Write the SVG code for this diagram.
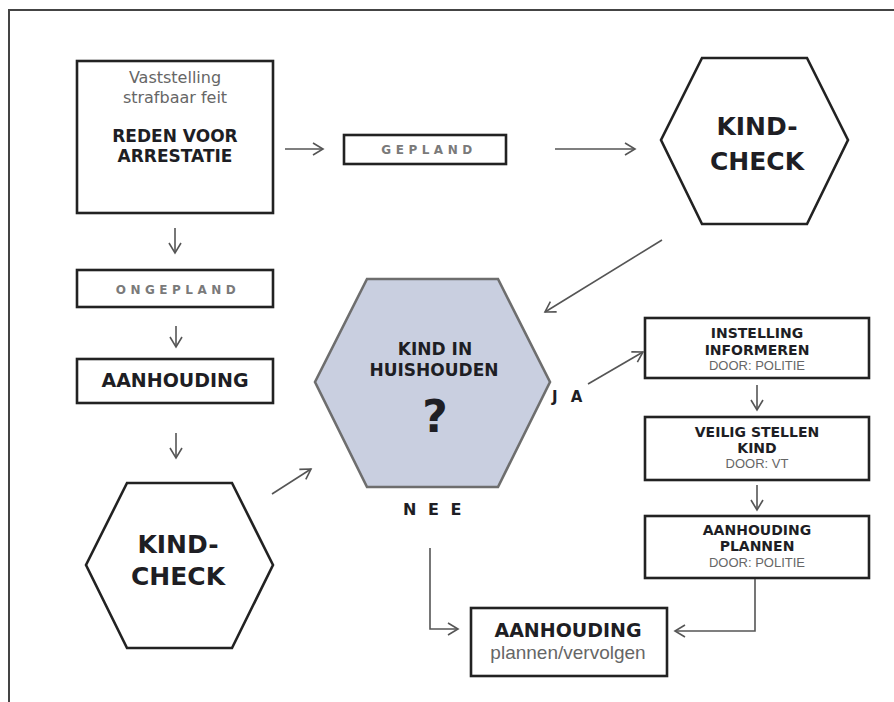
<svg xmlns="http://www.w3.org/2000/svg" width="894" height="702" viewBox="0 0 894 702">
<defs>
<marker id="ah" markerUnits="userSpaceOnUse" markerWidth="14" markerHeight="14" refX="12" refY="7" orient="auto" viewBox="0 0 14 14">
<path d="M2,1 L12,7 L2,13" fill="none" stroke="#555" stroke-width="1.6"/>
</marker>
<style>
.box{fill:#fff;stroke:#222;stroke-width:2.6}
.hex{fill:#fff;stroke:#222;stroke-width:2.6;stroke-linejoin:miter}
.chex{fill:#c9cfe0;stroke:#6e6e6e;stroke-width:2.6}
.con{fill:none;stroke:#555;stroke-width:1.6;marker-end:url(#ah)}
.b{font-family:"DejaVu Sans",sans-serif;font-weight:bold;fill:#1e1e24;text-anchor:middle}
.g{font-family:"Liberation Sans",Arial,sans-serif;fill:#666;text-anchor:middle}
.sp{font-family:"DejaVu Sans",sans-serif;font-weight:bold;fill:#7a7a7a;font-size:12px;letter-spacing:4.5px;text-anchor:middle}
</style>
</defs>
<rect width="894" height="702" fill="#fff"/>
<path d="M9,702 L9,10 L894,10" fill="none" stroke="#444" stroke-width="2"/>

<g id="reden">
<rect class="box" x="77" y="61" width="196" height="152"/>
<text class="g" x="175" y="83" font-size="16" style="font-family:'DejaVu Sans',sans-serif">Vaststelling</text>
<text class="g" x="175" y="103" font-size="16" style="font-family:'DejaVu Sans',sans-serif">strafbaar feit</text>
<text class="b" x="175" y="142" font-size="17">REDEN VOOR</text>
<text class="b" x="175" y="162" font-size="17">ARRESTATIE</text>
</g>

<g id="gepland">
<rect class="box" x="344" y="135" width="162" height="29"/>
<text class="sp" x="429" y="154">GEPLAND</text>
</g>

<g id="kindcheck1">
<polygon class="hex" points="702,58 807,58 848,140 807,224 702,224 661,140"/>
<text class="b" x="757" y="135" font-size="25">KIND-</text>
<text class="b" x="757" y="170" font-size="25">CHECK</text>
</g>

<g id="ongepland">
<rect class="box" x="77" y="270" width="196" height="37"/>
<text class="sp" x="178" y="294">ONGEPLAND</text>
</g>

<g id="aanhouding1">
<rect class="box" x="77" y="359" width="196" height="44"/>
<text class="b" x="175" y="387" font-size="19">AANHOUDING</text>
</g>

<g id="kindcheck2">
<polygon class="hex" points="127,483 232,483 273,565 232,648 127,648 86,565"/>
<text class="b" x="178" y="553" font-size="25">KIND-</text>
<text class="b" x="178" y="585" font-size="25">CHECK</text>
</g>

<g id="kindinhuishouden">
<polygon class="chex" points="367,279 498,279 550,382 498,487 367,487 315,382"/>
<text class="b" x="435" y="355" font-size="17">KIND IN</text>
<text class="b" x="434" y="376" font-size="17">HUISHOUDEN</text>
<text class="b" x="435" y="432" font-size="44">?</text>
</g>

<g id="labels">
<text class="b" x="552" y="402" font-size="15" style="text-anchor:start;letter-spacing:4px">J A</text>
<text class="b" x="403" y="515" font-size="16" style="text-anchor:start;letter-spacing:3px">N E E</text>
</g>

<g id="instelling">
<rect class="box" x="645" y="318" width="224" height="60"/>
<text class="b" x="757" y="338" font-size="14">INSTELLING</text>
<text class="b" x="757" y="355" font-size="14">INFORMEREN</text>
<text class="g" x="757" y="370" font-size="13">DOOR: POLITIE</text>
</g>

<g id="veilig">
<rect class="box" x="645" y="417" width="224" height="63"/>
<text class="b" x="757" y="437" font-size="14">VEILIG STELLEN</text>
<text class="b" x="757" y="453" font-size="14">KIND</text>
<text class="g" x="757" y="468" font-size="13">DOOR: VT</text>
</g>

<g id="aanhoudingplannen">
<rect class="box" x="645" y="516" width="224" height="62"/>
<text class="b" x="757" y="535" font-size="14">AANHOUDING</text>
<text class="b" x="757" y="551" font-size="14">PLANNEN</text>
<text class="g" x="757" y="567" font-size="13">DOOR: POLITIE</text>
</g>

<g id="aanhoudingvervolgen">
<rect class="box" x="471" y="608" width="196" height="68"/>
<text class="b" x="568" y="637" font-size="19">AANHOUDING</text>
<text class="g" x="568" y="659" font-size="19">plannen/vervolgen</text>
</g>

<g id="connectors">
<path class="con" d="M285,149 L323,149"/>
<path class="con" d="M555,149 L635,149"/>
<path class="con" d="M662,240 L545,312"/>
<path class="con" d="M175,228 L175,253"/>
<path class="con" d="M176,326 L176,347"/>
<path class="con" d="M176,433 L176,458"/>
<path class="con" d="M272,494 L311,469"/>
<path class="con" d="M588,384 L643,352"/>
<path class="con" d="M757,385 L757,410"/>
<path class="con" d="M757,485 L757,510"/>
<path class="con" d="M755,579 L755,631 L675,631"/>
<path class="con" d="M430,548 L430,629 L458,629"/>
</g>
</svg>
